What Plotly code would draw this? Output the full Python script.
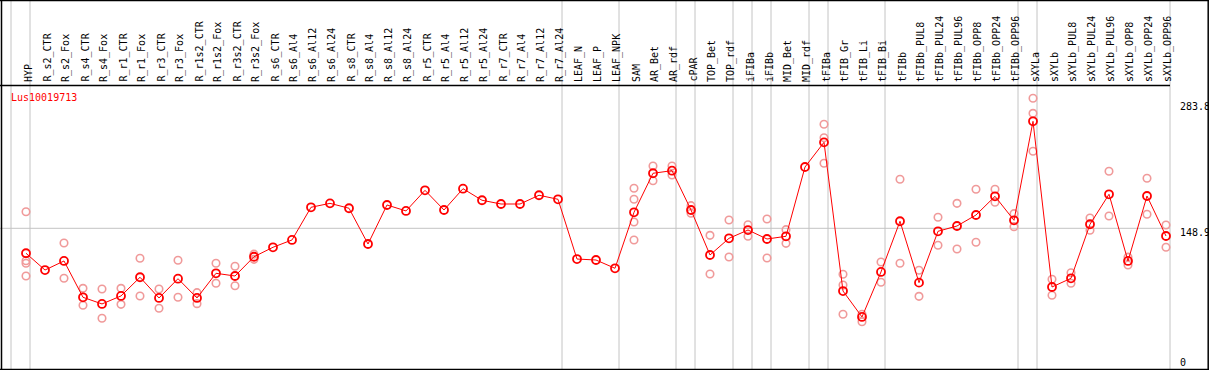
import plotly.graph_objects as go

categories = ["HYP", "R_s2_CTR", "R_s2_Fox", "R_s4_CTR", "R_s4_Fox", "R_r1_CTR", "R_r1_Fox",
              "R_r3_CTR", "R_r3_Fox", "R_r1s2_CTR", "R_r1s2_Fox", "R_r3s2_CTR", "R_r3s2_Fox",
              "R_s6_CTR", "R_s6_Al4", "R_s6_Al12", "R_s6_Al24", "R_s8_CTR", "R_s8_Al4", "R_s8_Al12",
              "R_s8_Al24", "R_r5_CTR", "R_r5_Al4", "R_r5_Al12", "R_r5_Al24", "R_r7_CTR", "R_r7_Al4",
              "R_r7_Al12", "R_r7_Al24", "LEAF_N", "LEAF_P", "LEAF_NPK", "SAM", "AR_Bet", "AR_rdf",
              "cPAR", "TOP_Bet", "TOP_rdf", "iFIBa", "iFIBb", "MID_Bet", "MID_rdf", "tFIBa",
              "tFIB_Gr", "tFIB_Li", "tFIB_Bi", "tFIBb", "tFIBb_PUL8", "tFIBb_PUL24", "tFIBb_PUL96",
              "tFIBb_OPP8", "tFIBb_OPP24", "tFIBb_OPP96", "sXYLa", "sXYLb", "sXYLb_PUL8",
              "sXYLb_PUL24", "sXYLb_PUL96", "sXYLb_OPP8", "sXYLb_OPP24", "sXYLb_OPP96"]

group_sizes = [1, 28, 3, 3, 1, 2, 1, 1, 2, 1, 3, 7, 1, 7]

mean_values = [123.0, 105.6, 115.0, 77.3, 70.4, 78.7, 98.1, 76.6, 96.6, 76.6, 102.2, 99.4, 119.4,
               129.2, 136.8, 170.7, 174.8, 169.7, 132.6, 173.1, 166.9, 188.3, 167.9, 190.0, 178.0,
               174.1, 174.1, 183.2, 179.0, 117.0, 116.0, 107.4, 165.5, 206.0, 208.7, 167.9, 121.2,
               138.5, 147.1, 137.8, 140.6, 212.5, 238.1, 83.8, 56.9, 103.6, 156.2, 92.5, 145.8,
               151.3, 162.7, 182.1, 157.2, 259.9, 88.0, 97.0, 153.1, 184.2, 115.0, 182.4, 140.9]

replicates = [
    [166.1, 115.3, 112.6, 99.4],  # HYP
    [], [133.7, 97.0], [86.6, 69.0], [85.9, 55.5], [86.6, 70.0], [117.8, 78.7],
    [85.9, 65.9], [115.7, 77.3], [82.1, 70.7], [112.6, 91.8], [109.5, 89.3], [122.1, 116.7],
    [], [], [], [], [], [], [], [], [], [], [], [], [], [], [], [],
    [], [], [],
    [190.4, 179.0, 155.4, 136.8], [213.6, 198.3], [213.6, 204.2],
    [172.4, 164.5], [141.6, 101.5], [157.5, 119.1], [152.6, 140.6], [158.6, 118.1],
    [147.5, 133.3], [], [256.8, 242.9, 216.4],
    [101.2, 90.1, 59.7], [59.7, 52.0], [113.9, 92.9],
    [199.8, 112.6], [105.3, 78.3], [160.3, 131.3], [174.8, 127.4], [189.4, 134.4],
    [189.4, 175.9], [164.1, 150.6],
    [283.8, 268.2, 228.8],
    [96.0, 79.4], [102.8, 91.8], [159.6, 146.8], [208.1, 161.7], [119.0, 110.8],
    [200.8, 163.4], [152.3, 129.2],
]

gene_id = "Lus10019713"
axis_labels = ["283.8", "148.9", "0"]
reference_value = 148.9

W, H = 1209, 370
X0_PX, X_STEP = 26.0, 19.0
Y_ZERO_PX, Y_SCALE = 371.79, 1.03769   # value units per pixel

x_range = [(0 - X0_PX) / X_STEP, (W - X0_PX) / X_STEP]
y_range = [(Y_ZERO_PX - H) * Y_SCALE, Y_ZERO_PX * Y_SCALE]

xs = list(range(len(categories)))
rep_x, rep_y = [], []
for i, reps in enumerate(replicates):
    for v in reps:
        rep_x.append(i)
        rep_y.append(v)

fig = go.Figure()
fig.add_trace(go.Scatter(
    x=rep_x, y=rep_y, mode="markers",
    marker=dict(symbol="circle-open", size=7.5, color="#f09a9a", line=dict(width=1.6)),
    hoverinfo="skip", showlegend=False))
fig.add_trace(go.Scatter(
    x=xs, y=mean_values, mode="lines+markers",
    line=dict(color="#ff0000", width=1),
    marker=dict(symbol="circle-open", size=8, color="#ff0000", line=dict(width=1.8)),
    showlegend=False))

def py(p):
    return 1 - p / H

shapes = []
gray = "#c4c4c4"
off = 4.0 / X_STEP
ends = [0]
for g in group_sizes:
    ends.append(ends[-1] + g)
for e in ends:
    xb = e - 1 + off
    shapes.append(dict(type="line", xref="x", yref="paper", x0=xb, x1=xb, y0=0, y1=1,
                       line=dict(color=gray, width=1), layer="below"))
last_b = ends[-1] - 1 + off
shapes.append(dict(type="line", xref="x", yref="y", x0=x_range[0], x1=last_b,
                   y0=reference_value, y1=reference_value,
                   line=dict(color=gray, width=1), layer="below"))
black = "#000000"
shapes.append(dict(type="line", xref="paper", yref="paper", x0=0, x1=1, y0=py(0.5), y1=py(0.5),
                   line=dict(color=black, width=1.5)))
shapes.append(dict(type="line", xref="paper", yref="paper", x0=0, x1=1, y0=py(369.5), y1=py(369.5),
                   line=dict(color=black, width=1.5)))
shapes.append(dict(type="line", xref="paper", yref="paper", x0=1.5 / W, x1=1.5 / W, y0=0, y1=1,
                   line=dict(color=black, width=1.5)))
shapes.append(dict(type="line", xref="paper", yref="paper", x0=1 - 0.8 / W, x1=1 - 0.8 / W, y0=0, y1=1,
                   line=dict(color=black, width=1.5)))
shapes.append(dict(type="line", xref="x", yref="paper", x0=x_range[0], x1=last_b, y0=py(85.5), y1=py(85.5),
                   line=dict(color=black, width=1.5)))

annotations = []
font = dict(family="DejaVu Sans Mono", size=10, color="#000000")
label_shift = 2.0 / X_STEP
for i, c in enumerate(categories):
    annotations.append(dict(x=i + label_shift, y=py(84), xref="x", yref="paper", text=c, showarrow=False,
                            textangle=-90, xanchor="center", yanchor="bottom", font=font))
annotations.append(dict(x=9 / W, y=py(97), xref="paper", yref="paper", text=gene_id, showarrow=False,
                        xanchor="left", yanchor="middle",
                        font=dict(family="DejaVu Sans Mono", size=10, color="#ff0000")))
for lab, ypx in zip(axis_labels, [107, 232, 362]):
    annotations.append(dict(x=1178 / W, y=py(ypx), xref="paper", yref="paper", text=lab, showarrow=False,
                            xanchor="left", yanchor="middle", font=font))

fig.update_layout(
    width=W, height=H, margin=dict(l=0, r=0, t=0, b=0, pad=0),
    paper_bgcolor="white", plot_bgcolor="white",
    xaxis=dict(range=x_range, visible=False, fixedrange=True),
    yaxis=dict(range=y_range, visible=False, fixedrange=True),
    shapes=shapes, annotations=annotations, showlegend=False,
)

fig.write_html("out.html", config={"displayModeBar": False},
               post_script="document.body.style.margin='0';document.body.style.overflow='hidden';")
